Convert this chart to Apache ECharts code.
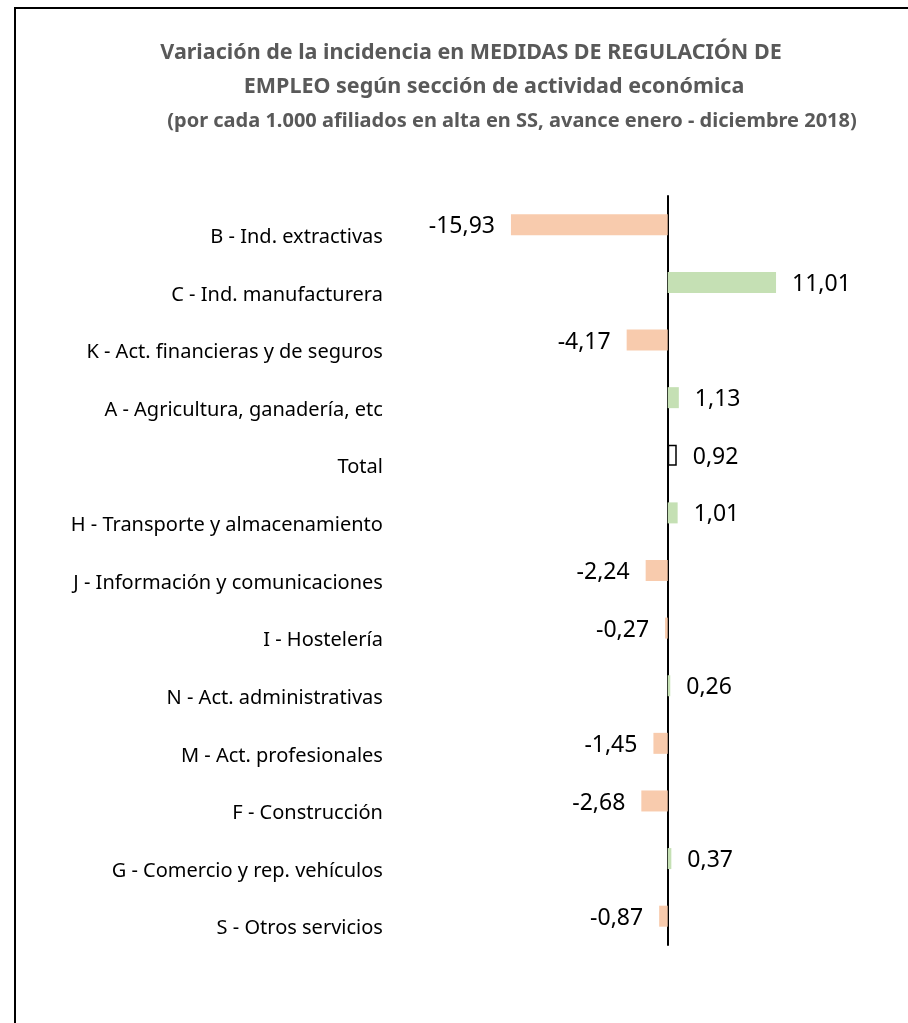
<!DOCTYPE html>
<html>
<head>
<meta charset="utf-8">
<script src="https://cdn.jsdelivr.net/npm/echarts@6/dist/echarts.min.js"></script>
<style>
  html, body { margin: 0; padding: 0; background: #fff; }
  #main { width: 908px; height: 1023px; }
</style>
</head>
<body>
<div id="main"></div>
<script>
var categories = [
	'B - Ind. extractivas',
	'C - Ind. manufacturera',
	'K - Act. financieras y de seguros',
	'A - Agricultura, ganadería, etc',
	'Total',
	'H - Transporte y almacenamiento',
	'J - Información y comunicaciones',
	'I - Hostelería',
	'N - Act. administrativas',
	'M - Act. profesionales',
	'F - Construcción',
	'G - Comercio y rep. vehículos',
	'S - Otros servicios'
];
var values = [-15.93, 11.01, -4.17, 1.13, 0.92, 1.01, -2.24, -0.27, 0.26, -1.45, -2.68, 0.37, -0.87];
var titleLines = [
	'Variación de la incidencia en MEDIDAS DE REGULACIÓN DE',
	'EMPLEO según sección de actividad económica',
	'(por cada 1.000 afiliados en alta en SS, avance enero - diciembre 2018)'
];

var chart = echarts.init(document.getElementById('main'), null, { renderer: 'canvas' });

var FONT = 'Noto Sans';

function fmt(v) {
	return v.toFixed(2).replace('.', ',');
}

var barData = values.map(function (v, i) {
	var isTotal = categories[i] === 'Total';
	return {
		value: v,
		itemStyle: isTotal
			? { color: '#ffffff', borderColor: '#000000', borderWidth: 1.5 }
			: { color: v < 0 ? '#F8CBAD' : '#C5E0B4' },
		label: { position: v < 0 ? 'left' : 'right' }
	};
});

var option = {
	backgroundColor: '#ffffff',
	animation: false,
	graphic: [
		{
			type: 'rect',
			shape: { x: 15, y: 8, width: 1000, height: 1100 },
			style: { fill: 'none', stroke: '#000', lineWidth: 2 },
			silent: true
		},
		{
			type: 'text', x: 471, y: 53,
			style: { text: titleLines[0], font: 'bold 21.5px "Noto Sans"', fill: '#595959', textAlign: 'center', textVerticalAlign: 'middle' }
		},
		{
			type: 'text', x: 494, y: 87,
			style: { text: titleLines[1], font: 'bold 21.5px "Noto Sans"', fill: '#595959', textAlign: 'center', textVerticalAlign: 'middle' }
		},
		{
			type: 'text', x: 512, y: 121,
			style: { text: titleLines[2], font: 'bold 20px "Noto Sans"', fill: '#595959', textAlign: 'center', textVerticalAlign: 'middle' }
		}
	],
	grid: {
		left: 470.9,
		width: 393.6,
		top: 196,
		height: 749,
		outerBoundsMode: 'none',
		containLabel: false
	},
	xAxis: {
		type: 'value',
		min: -20,
		max: 20,
		show: false
	},
	yAxis: {
		type: 'category',
		inverse: true,
		data: categories,
		axisLine: { show: true, onZero: true, lineStyle: { color: '#000', width: 2 } },
		axisTick: { show: false },
		axisLabel: {
			margin: 88,
			color: '#000',
			fontFamily: FONT,
			fontSize: 20,
			verticalAlign: 'top',
			lineHeight: 25
		},
		splitLine: { show: false }
	},
	series: [{
		type: 'bar',
		data: barData,
		barWidth: 21,
		label: {
			show: true,
			distance: 16,
			color: '#000',
			fontFamily: FONT,
			fontSize: 23,
			offset: [0, 2],
			formatter: function (p) { return fmt(p.value); }
		}
	}]
};

chart.setOption(option);
</script>
</body>
</html>
